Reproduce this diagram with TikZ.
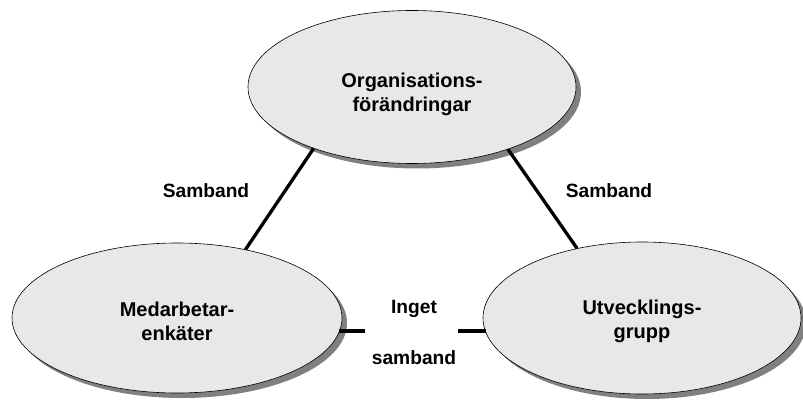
\documentclass[tikz,border=0pt]{standalone}
\usepackage{fontspec}
\setmainfont{Liberation Sans}
\usetikzlibrary{shapes.geometric,shadows}
\begin{document}
\begin{tikzpicture}[x=1pt,y=-1pt,
  topic/.style={ellipse, draw=black, line width=0.6pt, fill=black!9, inner sep=0pt,
    drop shadow={shadow xshift=5pt, shadow yshift=-5pt, fill=black!50, opacity=1}},
  ttxt/.style={align=center, inner sep=0pt, font=\fontsize{20}{24}\selectfont\bfseries},
  lbl/.style={font=\fontsize{19.2}{23}\selectfont\bfseries, inner sep=0pt},
  link/.style={line width=3.3pt, black}]
\useasboundingbox (0,0) rectangle (803,403);
\node[topic, minimum width=328pt, minimum height=153pt] (org) at (412,87) {};
\node[topic, minimum width=330pt, minimum height=150pt] (med) at (177,318) {};
\node[topic, minimum width=318pt, minimum height=152pt] (utv) at (642,318) {};
\node[ttxt] (orgt) at (412,94) {Organisations-\\förändringar};
\node[ttxt] (medt) at (177,321) {Medarbetar-\\enkäter};
\node[ttxt] (utvt) at (642,321) {Utvecklings-\\grupp};
\coordinate (hl) at (365,331);
\coordinate (hr) at (458,331);
\draw[link] (org.212) -- (med.45);
\draw[link] (org.-33) -- (utv.133);
\draw[link] ([xshift=-3pt]hl -| med.east) -- (hl);
\draw[link] (hr) -- ([xshift=3pt]hr -| utv.west);
\node[lbl] (s1) at (206,191) {Samband};
\node[lbl] (s2) at (609,191) {Samband};
\node[lbl] (i1) at (414,309) {Inget};
\node[lbl] (i2) at (414,358) {samband};
\end{tikzpicture}
\end{document}
